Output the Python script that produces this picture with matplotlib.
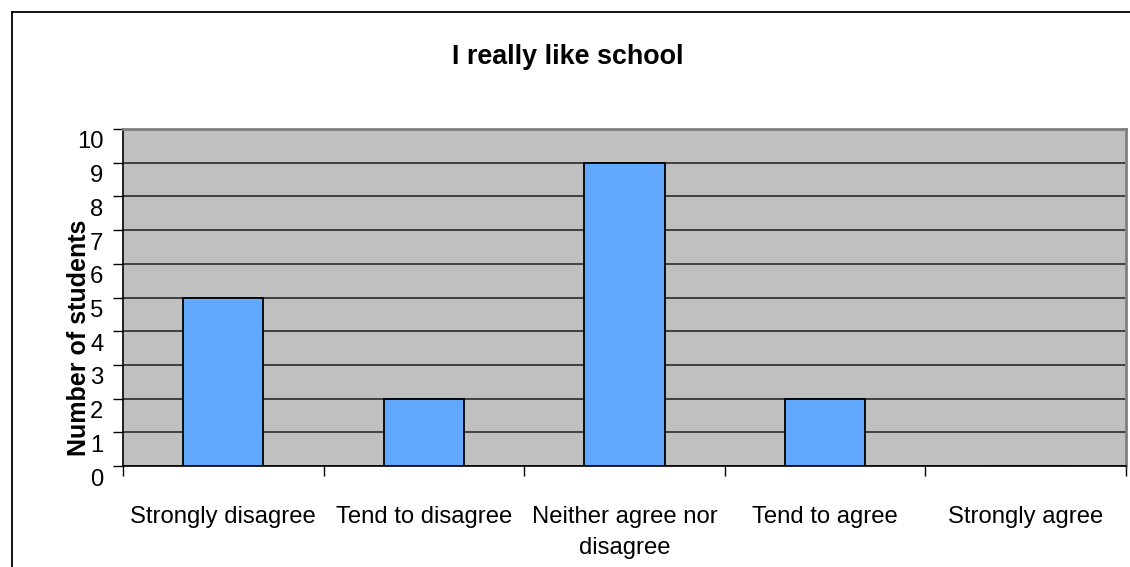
import numpy as np
import matplotlib.pyplot as plt
from matplotlib.lines import Line2D
from matplotlib.transforms import ScaledTranslation

plt.rcParams['font.family'] = ['Liberation Sans', 'DejaVu Sans']

categories = ['Strongly disagree', 'Tend to disagree', 'Neither agree nor\ndisagree',
              'Tend to agree', 'Strongly agree']
counts = [5, 2, 9, 2, 0]
y_ticks = list(range(0, 11))

fig = plt.figure(figsize=(11.3, 5.67), dpi=100)
ax = fig.add_axes([123 / 1130, 1 - 466 / 567, 1003 / 1130, 337 / 567])
ax.set_facecolor('#C0C0C0')

x = np.arange(len(categories))
ax.bar(x, counts, width=0.4, color='#63A8FF', edgecolor='black', linewidth=1.3, zorder=3)

ax.set_xlim(-0.5, len(categories) - 0.5)
ax.set_ylim(0, 10)

# horizontal grid at every whole number
ax.set_yticks(y_ticks)
ax.yaxis.grid(True, color='#2a2a2a', linewidth=1.2, zorder=1)
ax.set_axisbelow(True)

ax.set_xticks(x)
ax.set_xticklabels(categories, fontsize=17.2, linespacing=1.5)
ax.set_xticks(np.arange(-0.5, len(categories)), minor=True)
ax.tick_params(axis='x', which='major', length=0, pad=29)
ax.tick_params(axis='x', which='minor', length=7, width=1, color='black', direction='out')
ax.tick_params(axis='y', length=7, width=1, color='black', pad=7, labelsize=17.2)

# numbers sit a little below their tick, as in the spreadsheet style
shift = ScaledTranslation(0, -11 / 100, fig.dpi_scale_trans)
for lab in ax.get_yticklabels():
    lab.set_transform(lab.get_transform() + shift)

for side in ['top', 'right']:
    ax.spines[side].set_color('#808080')
    ax.spines[side].set_linewidth(2)
for side in ['left', 'bottom']:
    ax.spines[side].set_color('black')
    ax.spines[side].set_linewidth(1.2)

ax.set_ylabel('Number of students', fontsize=18, fontweight='bold')
ax.yaxis.label.set_va('center')
ax.yaxis.set_label_coords(-44 / 1003, (466 - 338) / 337)

fig.text(568 / 1130, 1 - 57 / 567, 'I really like school', fontsize=19.4,
         fontweight='bold', ha='center', va='center')

# chart frame, running off the right and bottom edges
fx, fy = 12 / 1130, 1 - 12 / 567
fig.add_artist(Line2D([fx, fx], [0, fy], transform=fig.transFigure, color='black', linewidth=1.3))
fig.add_artist(Line2D([fx, 1], [fy, fy], transform=fig.transFigure, color='black', linewidth=1.3))

fig.savefig('out.png', dpi=100)
